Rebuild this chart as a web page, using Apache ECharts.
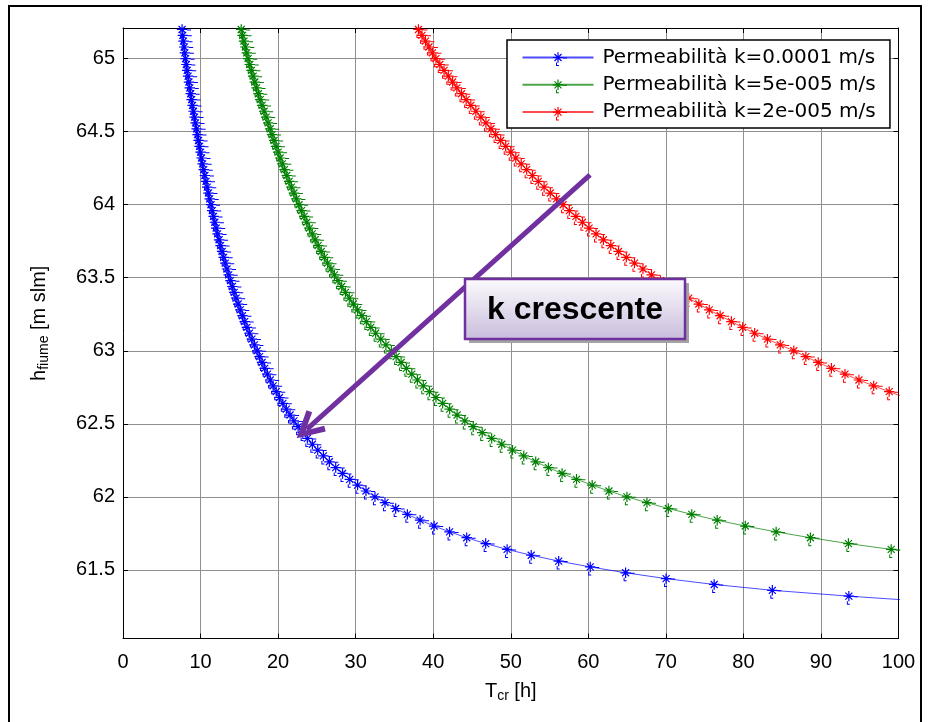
<!DOCTYPE html>
<html>
<head>
<meta charset="utf-8">
<script src="https://cdn.jsdelivr.net/npm/echarts@6/dist/echarts.min.js"></script>
<style>
html,body{margin:0;padding:0;background:#fff;}
#chart{width:931px;height:722px;}
</style>
</head>
<body>
<div id="chart"></div>
<script>
// river level h [m slm] (shared by all three series)
const hFiume = [
65.20,65.16,65.12,65.08,65.04,65.00,64.96,64.92,64.88,64.84,
64.80,64.76,64.72,64.68,64.64,64.60,64.56,64.52,64.48,64.44,
64.40,64.36,64.32,64.28,64.24,64.20,64.16,64.12,64.08,64.04,
64.00,63.96,63.92,63.88,63.84,63.80,63.76,63.72,63.68,63.64,
63.60,63.56,63.52,63.48,63.44,63.40,63.36,63.32,63.28,63.24,
63.20,63.16,63.12,63.08,63.04,63.00,62.96,62.92,62.88,62.84,
62.80,62.76,62.72,62.68,62.64,62.60,62.56,62.52,62.48,62.44,
62.40,62.36,62.32,62.28,62.24,62.20,62.16,62.12,62.08,62.04,
62.00,61.96,61.92,61.88,61.84,61.80,61.76,61.72,61.68,61.64,
61.60,61.56,61.52,61.48,61.44,61.40,61.36,61.32,61.28,61.24
];
// T_cr [h] for k = 0.0001 m/s
const tcrK1 = [
7.62,7.71,7.80,7.89,7.98,8.07,8.17,8.28,8.39,8.50,
8.61,8.73,8.85,8.97,9.10,9.23,9.36,9.49,9.61,9.74,
9.87,10.00,10.13,10.27,10.41,10.56,10.71,10.86,11.02,11.18,
11.35,11.51,11.68,11.85,12.02,12.20,12.39,12.58,12.78,12.98,
13.19,13.41,13.63,13.86,14.10,14.34,14.59,14.85,15.12,15.40,
15.69,15.98,16.29,16.62,16.95,17.30,17.61,17.93,18.27,18.62,
18.98,19.36,19.76,20.18,20.61,21.06,21.54,22.04,22.58,23.16,
23.77,24.42,25.11,25.84,26.61,27.43,28.31,29.24,30.25,31.33,
32.49,33.78,35.16,36.67,38.31,40.12,42.11,44.32,46.77,49.53,
52.64,56.18,60.25,64.81,70.03,76.23,83.73,93.60,104.71,120.11
];
// T_cr [h] for k = 5e-005 m/s
const tcrK2 = [
15.24,15.42,15.60,15.78,15.96,16.14,16.34,16.56,16.78,17.00,
17.22,17.46,17.70,17.94,18.20,18.46,18.72,18.98,19.22,19.48,
19.74,20.00,20.26,20.54,20.82,21.12,21.42,21.72,22.04,22.36,
22.70,23.02,23.36,23.70,24.04,24.40,24.78,25.16,25.56,25.96,
26.38,26.82,27.26,27.72,28.20,28.68,29.18,29.70,30.24,30.80,
31.38,31.96,32.58,33.24,33.90,34.60,35.22,35.86,36.54,37.24,
37.96,38.72,39.52,40.36,41.22,42.12,43.08,44.08,45.16,46.32,
47.54,48.84,50.22,51.68,53.22,54.86,56.62,58.48,60.50,62.66,
64.98,67.56,70.32,73.34,76.62,80.24,84.22,88.64,93.54,99.06,
105.28
];
// T_cr [h] for k = 2e-005 m/s
const tcrK3 = [
38.10,38.55,39.00,39.45,39.90,40.35,40.85,41.40,41.95,42.50,
43.05,43.65,44.25,44.85,45.50,46.15,46.80,47.45,48.05,48.70,
49.35,50.00,50.65,51.35,52.05,52.80,53.55,54.30,55.10,55.90,
56.75,57.55,58.40,59.25,60.10,61.00,61.95,62.90,63.90,64.90,
65.95,67.05,68.15,69.30,70.50,71.70,72.95,74.25,75.60,77.00,
78.45,79.90,81.45,83.10,84.75,86.50,88.05,89.65,91.35,93.10,
94.90,96.80,98.80,100.90
];
const seriesNames = ['Permeabilità k=0.0001 m/s','Permeabilità k=5e-005 m/s','Permeabilità k=2e-005 m/s'];
const seriesColors = ['#0000ff','#008000','#ff0000'];
const seriesT = [tcrK1, tcrK2, tcrK3];

// axis ranges
const xRange = [0, 100];
const xStep = 10;
const yRange = [61.03, 65.21];

// annotation (data coordinates)
const arrowStart = [60.22, 64.204];
const arrowEnd = [23.69, 62.462];
const annotationText = 'k crescente';

const starPath = 'path://M0 0L0.01 0L0 0.01Z M20 20L19.99 20L20 19.99Z ' +
  'M9.4 4.8L10.6 4.8L10.6 15.2L9.4 15.2Z M4.8 9.4L15.2 9.4L15.2 10.6L4.8 10.6Z ' +
  'M6.08 6.92L6.92 6.08L13.92 13.08L13.08 13.92Z M6.08 13.08L13.08 6.08L13.92 6.92L6.92 13.92Z ' +
  'M15 10L19 10L19 11L15 11Z M8 15L9 15L9 18L8 18Z M8 17.5L11 17.5L11 18.5L8 18.5Z';
const chevronPath = 'path://M0 0L0.01 0L0 0.01Z M30.8 30.8L30.79 30.8L30.8 30.79Z ' +
  'M15.4 1.9L29.75 28.0L24.45 30.8L15.4 13.8L6.35 30.8L1.05 28.0Z';

const FONT = 'Liberation Sans';
const richSub = {
  t: {fontSize: 20, fontFamily: FONT, color: '#000', lineHeight: 22, verticalAlign: 'top'},
  s: {fontSize: 14, fontFamily: FONT, color: '#000', lineHeight: 14, padding: [11, 0, 0, 0], verticalAlign: 'bottom'}
};

const chart = echarts.init(document.getElementById('chart'), null, {renderer: 'canvas'});

const series = seriesNames.map((name, i) => {
  const s = {
    type: 'line',
    name: name,
    data: seriesT[i].map((t, j) => [t, hFiume[j]]),
    symbol: starPath,
    symbolSize: 20,
    showAllSymbol: true,
    clip: true,
    lineStyle: {color: seriesColors[i], width: 1, opacity: 0.7},
    itemStyle: {color: seriesColors[i]},
    emphasis: {disabled: true},
    silent: true
  };
  if (i === 0) {
    s.markLine = {
      silent: true,
      symbol: ['none', chevronPath],
      symbolSize: 30.8,
      label: {show: false},
      emphasis: {disabled: true},
      lineStyle: {color: '#7030a0', width: 5, type: 'solid', opacity: 1},
      data: [[{coord: arrowStart}, {coord: arrowEnd}]],
      z: 20
    };
  }
  return s;
});

const axisCommon = {
  type: 'value',
  axisLine: {show: true, onZero: false, lineStyle: {color: '#000', width: 1}},
  axisTick: {show: true, inside: true, length: 5, lineStyle: {color: '#000', width: 1}}
};

const option = {
  animation: false,
  backgroundColor: '#fff',
  grid: {left: 123, right: 32.5, top: 28, bottom: 83.5, show: false},
  legend: {
    data: seriesNames,
    left: 507, top: 40,
    orient: 'vertical',
    itemWidth: 71, itemHeight: 25, itemGap: 7.3,
    padding: [7.5, 14.3, 5.8, 14.5],
    backgroundColor: '#fff', borderColor: '#000', borderWidth: 1.5, borderRadius: 0,
    selectedMode: false,
    textStyle: {fontFamily: 'DejaVu Sans', fontSize: 20, color: '#000', padding: [0, 0, 0, 4]}
  },
  xAxis: [
    Object.assign({}, axisCommon, {
      min: xRange[0], max: xRange[1], interval: xStep, position: 'bottom',
      axisLabel: {color: '#000', fontSize: 20, fontFamily: FONT, margin: 14},
      splitLine: {show: true, lineStyle: {color: '#8f8f8f', width: 1}},
      name: '{t|T}{s|cr}{t| [h]}', nameLocation: 'middle', nameGap: 43,
      nameTextStyle: {fontSize: 20, fontFamily: FONT, color: '#000', rich: richSub}
    }),
    Object.assign({}, axisCommon, {
      min: xRange[0], max: xRange[1], interval: xStep, position: 'top',
      axisLabel: {show: false}, splitLine: {show: false}
    })
  ],
  yAxis: [
    Object.assign({}, axisCommon, {
      min: yRange[0], max: yRange[1], splitNumber: 8, position: 'left',
      axisLabel: {color: '#000', fontSize: 20, fontFamily: FONT, margin: 8,
        showMinLabel: false, showMaxLabel: false,
        formatter: v => (Math.abs(v * 2 - Math.round(v * 2)) < 1e-6 ? String(+v.toFixed(1)) : '')},
      splitLine: {show: true, lineStyle: {color: '#8f8f8f', width: 1}},
      name: '{t|h}{s|fiume}{t| [m slm]}', nameLocation: 'middle', nameGap: 72, nameRotate: 90,
      nameTextStyle: {fontSize: 20, fontFamily: FONT, color: '#000', rich: richSub, padding: [0, 0, 0, 20]}
    }),
    Object.assign({}, axisCommon, {
      min: yRange[0], max: yRange[1], splitNumber: 8, position: 'right',
      axisLabel: {show: false}, splitLine: {show: false}
    })
  ],
  series: series,
  graphic: [
    {type: 'rect', silent: true, z: 100, shape: {x: 9, y: 6, width: 912, height: 740},
      style: {fill: 'none', stroke: '#000', lineWidth: 2}},
    {type: 'rect', silent: true, z: 100, shape: {x: 469, y: 283, width: 220, height: 60},
      style: {fill: '#a3a3a3'}},
    {type: 'rect', silent: true, z: 101, shape: {x: 465, y: 279, width: 220, height: 60},
      style: {fill: new echarts.graphic.LinearGradient(0, 0, 0, 1, [
        {offset: 0, color: '#fdfcfe'}, {offset: 1, color: '#c8bcdb'}]),
        stroke: '#7030a0', lineWidth: 2.5}},
    {type: 'text', silent: true, z: 102, x: 575, y: 310,
      style: {text: annotationText, font: 'bold 32px "Liberation Sans"', fill: '#000',
        align: 'center', verticalAlign: 'middle'}}
  ]
};
chart.setOption(option);
</script>
</body>
</html>
